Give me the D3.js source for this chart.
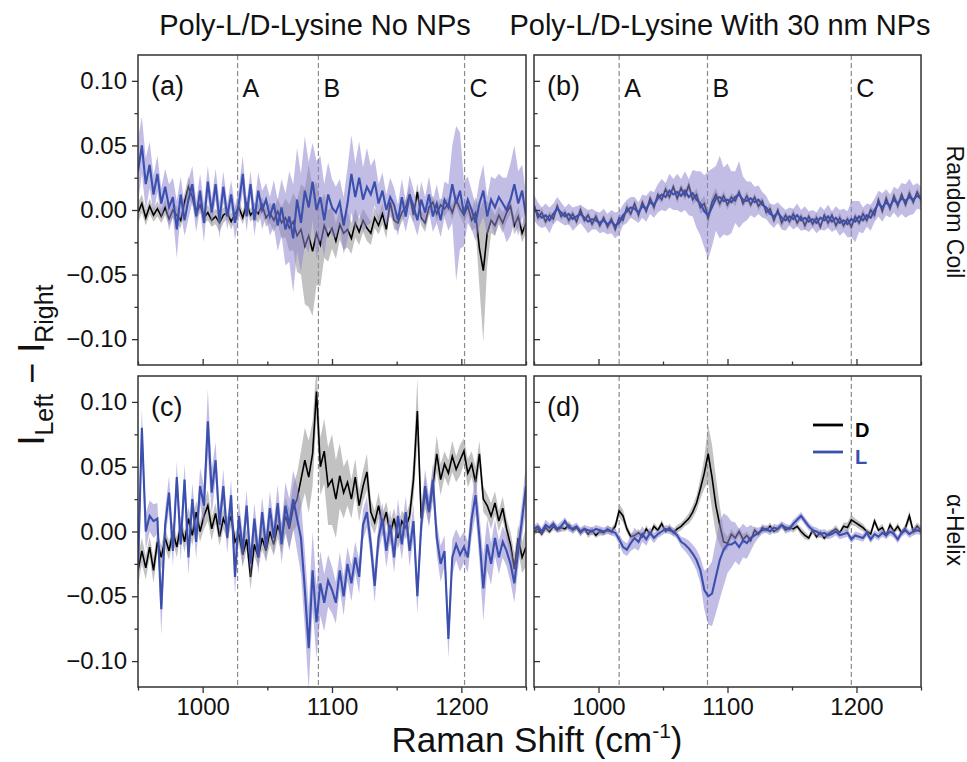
<!DOCTYPE html>
<html><head><meta charset="utf-8">
<script src="https://cdn.jsdelivr.net/npm/d3@7"></script>
<style>
body{margin:0;background:#fff}
svg{display:block}
text{font-family:Arial,"Liberation Sans",sans-serif;fill:#111}
</style>
</head><body>
<svg id="chart" width="967" height="762"></svg>
<script>
// Raman shift sampling (cm^-1)
const shift = d3.range(950, 1251, 3);
// All intensity values below in units of 1e-3 (I_Left - I_Right)
// Panel (a): Random coil, no NPs
const D_a = [-2,5,-6,3,-4,1,-5,2,-7,0, -4,-8,6,18,10,-3,4,-6,-2,-8, -5,-10,-4,-2,-9,-3,2,-6,5,-4,
  0,-3,4,-6,-2,-8,-1,-10,-6,-14, -9,-20,-15,-28,-20,-32,-18,-27,-12,-20, -14,-24,-11,-18,-15,-22,-10,-17,-8,-14,
  -18,-6,-12,-3,-15,6,-8,-10,-2,2, 12,-4,14,-6,-10,2,6,-3,4,1, 5,-2,8,1,-4,3,-8,-2,-30,-47,
  -18,-8,-12,-4,-10,-2,3,-12,-5,-18, -10];
const sD_a = [8,7,6,6,5,6,5,6,5,6, 7,6,7,8,6,5,6,5,6,5, 6,7,6,5,6,5,6,5,6,5,
  6,7,6,7,8,9,10,12,15,18, 22,28,35,45,55,50,40,32,25,20, 16,14,12,13,14,12,11,10,9,10,
  9,8,7,8,7,6,7,6,7,6, 7,6,7,6,7,6,5,6,5,6, 5,6,5,6,7,6,8,12,30,55,
  25,10,8,7,8,7,6,7,8,7, 8];
const L_a = [30,50,20,35,12,28,5,18,2,10, -15,12,-8,8,20,-5,15,-10,22,-2, 20,-8,18,-5,12,-10,5,28,-5,20,
  -8,15,0,8,-5,5,-12,2,-15,-5, -22,8,-10,15,2,22,0,10,-8,12, 2,-2,6,-12,5,28,10,25,8,18,
  12,22,5,15,0,10,4,-8,10,-5, 12,3,-8,8,-2,12,-5,5,-8,8, 2,20,5,15,-3,8,0,-10,5,15,
  -5,8,2,10,5,0,8,20,5,15, -5];
const sL_a = [25,22,20,18,15,14,12,14,18,15, 22,14,12,15,14,12,13,15,12,11, 12,14,12,10,11,13,12,14,12,10,
  12,14,15,13,15,18,20,22,28,35, 42,40,38,42,35,30,38,32,28,25, 22,20,18,22,28,30,26,28,25,30,
  22,18,15,14,12,15,13,12,14,12, 15,13,12,14,12,14,12,15,13,14, 18,30,60,45,25,18,15,14,18,20,
  15,18,22,18,20,25,28,30,25,20, 18];
// Panel (b): Random coil, with 30 nm NPs
const D_b = [4,-6,-2,-9,-4,-7,3,-5,-2,-8, -3,-9,0,-8,-4,-11,-5,-12,-6,-13, -7,-15,-6,-8,2,-3,5,-4,6,-1,
  9,2,12,8,16,10,18,9,17,11, 19,8,12,2,5,-6,6,12,5,11, 4,10,7,14,5,11,4,10,3,7,
  -2,1,-8,0,-10,-4,-9,-3,-10,-5, -12,-5,-11,-6,-13,-4,-10,-4,-12,-6, -12,-7,-13,-5,-10,-3,-8,0,-4,8,
  -1,9,1,11,3,12,4,13,6,14, 8];
const sD_b = [3,3,4,3,3,4,3,3,3,4, 3,3,4,3,3,3,4,3,3,3, 4,3,3,3,4,3,3,4,3,3,
  3,4,3,3,4,3,3,4,3,4, 4,4,5,5,6,6,5,5,4,4, 4,3,4,3,3,4,3,3,4,3,
  3,4,3,3,4,3,3,4,3,3, 4,3,3,4,3,3,4,3,3,4, 3,3,4,3,3,4,3,3,4,3,
  3,4,3,3,4,3,3,4,3,3, 4];
const L_b = [2,-3,-6,-4,-8,-3,1,-2,-5,-3, -7,-5,-3,-6,-9,-7,-8,-10,-8,-11, -9,-12,-10,-4,-1,2,1,-2,3,1,
  6,4,9,12,10,15,12,14,11,15, 10,13,8,5,-1,-4,2,9,10,7, 8,6,10,12,8,7,9,6,8,4,
  2,-3,-5,-2,-6,-8,-5,-7,-4,-8, -6,-9,-7,-10,-6,-8,-5,-9,-6,-10, -8,-11,-7,-9,-5,-8,-4,-6,0,5,
  2,6,3,8,5,9,7,10,8,11, 9];
const sL_b = [10,9,8,9,10,8,9,8,7,8, 9,8,7,8,9,8,7,8,9,8, 9,10,9,8,9,8,9,8,9,10,
  9,10,11,12,11,13,12,14,13,15, 14,18,22,25,28,34,30,25,32,26, 28,24,20,26,18,15,13,12,11,10,
  9,8,9,8,9,8,7,8,9,8, 9,8,7,8,9,8,9,8,9,10, 9,10,14,16,12,10,9,10,9,10,
  11,10,9,10,11,12,13,14,11,10, 9];
// Panel (c): alpha-helix, no NPs
const D_c = [-30,-15,-28,-12,-30,-8,-20,-5,-15,0, -12,5,-8,10,-3,15,0,12,20,2, 14,-4,10,2,12,-8,-2,-18,-6,-35,
  -10,-20,-5,-15,0,-10,5,-5,12,2, 18,25,40,55,42,60,108,50,62,35, 40,25,43,30,38,25,42,20,35,46,
  15,7,20,5,15,-2,10,-5,8,3, 12,40,93,10,30,15,35,60,40,52, 45,58,48,55,62,45,52,38,60,25,
  20,12,22,8,18,2,-10,-29,-5,-20, -12];
const sD_c = [12,10,9,8,10,8,9,8,7,8, 8,7,8,9,8,9,8,10,12,9, 8,7,8,9,8,7,8,9,8,10,
  9,8,9,8,10,9,10,12,14,15, 18,20,22,25,28,25,20,22,25,30, 35,30,25,20,18,15,14,12,12,14,
  10,9,10,9,8,9,8,9,8,9, 10,15,25,10,12,10,12,14,12,10, 10,12,10,12,10,11,10,12,10,10,
  9,10,9,8,9,8,10,12,10,12, 15];
const L_c = [-30,80,0,12,8,10,-60,5,30,-15, 42,-10,40,-20,25,-8,35,20,85,30, 55,5,35,-5,28,-35,12,-15,20,-25,
  10,-20,15,-12,18,-5,22,-10,20,5, 25,10,-5,-45,-90,-30,-70,-40,-55,-38, -45,-55,-30,-50,-25,-40,-20,-35,5,15,
  -10,-42,-5,10,-15,5,-20,12,-10,15, -15,8,-50,5,35,15,40,-5,-25,-15, -83,-20,-10,-18,-12,-20,10,28,-5,-44,
  -10,-25,-5,-20,-8,-15,-25,-40,-15,10, 35];
const sL_c = [30,15,14,12,13,12,20,12,13,12, 12,13,12,14,12,13,14,15,25,18, 14,12,13,12,12,14,12,13,12,12,
  12,13,12,12,13,12,14,15,18,20, 22,25,28,30,32,30,28,25,22,20, 18,16,14,15,13,14,12,13,12,12,
  12,13,12,12,13,12,12,13,12,12, 12,13,14,12,13,12,12,13,14,12, 15,14,12,13,12,12,14,15,18,25,
  20,16,14,13,12,12,14,15,13,14, 18];
// Panel (d): alpha-helix, with 30 nm NPs
const D_d = [0,2,-2,3,0,4,1,3,2,5, 1,3,-1,2,-2,1,-3,0,-1,2, 0,4,16,12,2,-4,-3,-1,-4,2,
  -2,4,1,6,0,3,-1,2,4,7, 10,15,22,33,45,60,42,20,5,-8, -9,-2,-5,0,-6,-3,-7,1,-2,3,
  1,4,0,2,5,1,3,2,4,0, -3,-5,1,-4,-1,-5,-2,0,2,-1, 4,3,9,7,5,3,0,-2,8,1,
  3,-3,5,0,4,-1,3,12,0,4, 1];
const sD_d = [3,3,2,3,2,3,2,3,2,3, 3,2,3,2,3,3,2,3,2,3, 3,3,5,5,3,3,2,3,2,3,
  2,3,2,3,2,3,3,3,3,3, 4,5,6,8,12,22,25,22,15,8, 5,4,3,3,4,3,3,3,2,3,
  2,3,2,3,2,3,2,3,2,3, 3,2,3,2,3,2,3,2,3,2, 3,4,4,3,3,3,2,3,3,2,
  3,2,3,2,3,2,3,4,3,3, 3];
const L_d = [2,4,0,5,3,6,2,4,8,3, 2,4,0,2,1,0,2,1,0,1, 0,-1,-6,-12,-14,-9,-5,-8,-2,-6,
  -1,-5,-2,0,2,1,0,-3,-8,-10, -13,-17,-22,-30,-45,-50,-48,-35,-22,-14, -10,-10,-8,-12,-7,-9,-5,-3,-1,1,
  2,0,3,2,5,3,2,6,9,12, 8,4,1,0,-2,-1,-3,-2,0,-3, -2,-1,-6,-3,-4,-5,-1,-6,-2,-4,
  -1,-3,0,-2,-6,-1,1,-2,0,1, 0];
const sL_d = [3,3,3,4,3,3,3,4,3,3, 3,3,3,3,3,3,3,3,3,3, 3,3,4,5,5,6,8,7,6,5,
  4,4,3,3,3,3,3,3,4,5, 6,7,8,10,15,22,25,28,30,28, 22,18,15,14,13,12,10,6,4,3,
  3,3,3,3,3,3,3,3,3,3, 3,3,3,3,3,3,3,3,3,3, 3,3,3,3,3,3,3,3,3,3,
  3,3,3,3,3,3,3,3,3,3, 3];

// Marker band positions (cm^-1)
const markers_noNP = [1027, 1089.5, 1202.5];
const markers_NP = [1016, 1084.5, 1196];
const markerNames = ["A", "B", "C"];
const panelNames = ["(a)", "(b)", "(c)", "(d)"];
const colTitles = ["Poly-L/D-Lysine No NPs", "Poly-L/D-Lysine With 30 nm NPs"];
const rowTitles = ["Random Coil", "α-Helix"];
const yMajor = [-0.10, -0.05, 0.00, 0.05, 0.10];
const yMinor = [-0.075, -0.025, 0.025, 0.075];
const xMajor = [1000, 1100, 1200];
const xMinor = [950, 1050, 1150, 1250];
const seriesNames = ["D", "L"];

const BLUE = "#3a4fae";
const svg = d3.select("#chart");
const cols = [[138, 526], [534, 921]];
const rows = [[55, 365], [376, 687]];

const panels = [
  {D: D_a, sD: sD_a, L: L_a, sL: sL_a, m: markers_noNP, c: 0, r: 0},
  {D: D_b, sD: sD_b, L: L_b, sL: sL_b, m: markers_NP, c: 1, r: 0},
  {D: D_c, sD: sD_c, L: L_c, sL: sL_c, m: markers_noNP, c: 0, r: 1},
  {D: D_d, sD: sD_d, L: L_d, sL: sL_d, m: markers_NP, c: 1, r: 1}
];

panels.forEach((p, k) => {
  const [x0, x1] = cols[p.c], [y0, y1] = rows[p.r];
  const x = d3.scaleLinear().domain([950, 1250]).range([x0, x1]);
  const y = d3.scaleLinear().domain([-0.12, 0.12]).range([y1, y0]);
  const g = svg.append("g");
  const cid = "clip" + k;
  svg.append("clipPath").attr("id", cid).append("rect")
    .attr("x", x0).attr("y", y0).attr("width", x1 - x0).attr("height", y1 - y0);
  const plot = g.append("g").attr("clip-path", `url(#${cid})`);

  const mk = (vals, sp) => shift.map((s, i) => ({s, v: vals[i] / 1000, e: sp[i] / 1000}));
  const dD = mk(p.D, p.sD), dL = mk(p.L, p.sL);
  const area = d3.area().x(d => x(d.s)).y0(d => y(d.v - d.e)).y1(d => y(d.v + d.e));
  const line = d3.line().x(d => x(d.s)).y(d => y(d.v));

  plot.selectAll(".mk").data(p.m).join("line")
    .attr("x1", d => x(d)).attr("x2", d => x(d)).attr("y1", y0).attr("y2", y1)
    .attr("stroke", "#8a8a8a").attr("stroke-width", 1.2).attr("stroke-dasharray", "5,3");

  plot.append("path").datum(dD).attr("d", area).attr("fill", "#9a9a9a").attr("fill-opacity", 0.6);
  plot.append("path").datum(dD).attr("d", line).attr("fill", "none").attr("stroke", "#000").attr("stroke-width", 1.6);
  plot.append("path").datum(dL).attr("d", area).attr("fill", "#8f86d0").attr("fill-opacity", 0.55);
  plot.append("path").datum(dL).attr("d", line).attr("fill", "none").attr("stroke", BLUE).attr("stroke-width", 2.1);

  const labelsY = p.c === 0, labelsX = p.r === 1;
  const yA = g.append("g").attr("transform", `translate(${x0},0)`);
  yA.call(d3.axisLeft(y).tickValues(yMajor).tickSize(labelsY ? 6 : -6).tickPadding(5)
    .tickFormat(labelsY ? d3.format(".2f") : ""));
  yA.append("g").call(d3.axisLeft(y).tickValues(yMinor).tickSize(labelsY ? 3.5 : -3.5).tickFormat(""));
  const xA = g.append("g").attr("transform", `translate(0,${y1})`);
  xA.call(d3.axisBottom(x).tickValues(xMajor).tickSize(labelsX ? 6 : -6).tickPadding(5)
    .tickFormat(labelsX ? d3.format("d") : ""));
  xA.append("g").call(d3.axisBottom(x).tickValues(xMinor).tickSize(labelsX ? 3.5 : -3.5).tickFormat(""));
  g.selectAll(".domain").remove();
  g.selectAll(".tick line").attr("stroke", "#333").attr("stroke-width", 1.3);
  g.selectAll(".tick text").attr("font-size", 24).attr("fill", "#111")
    .attr("font-family", "Arial, 'Liberation Sans', sans-serif");

  g.append("rect").attr("x", x0).attr("y", y0).attr("width", x1 - x0).attr("height", y1 - y0)
    .attr("fill", "none").attr("stroke", "#333").attr("stroke-width", 1.5);

  g.append("text").attr("x", x0 + 13).attr("y", y0 + 40).attr("font-size", 27).text(panelNames[k]);
  if (p.r === 0) {
    g.selectAll(".ml").data(p.m).join("text").attr("x", d => x(d) + 5).attr("y", y0 + 42)
      .attr("font-size", 25).text((d, i) => markerNames[i]);
  }

  if (k === 3) {
    const lg = [[seriesNames[0], "#000"], [seriesNames[1], BLUE]];
    lg.forEach((e, i) => {
      const ly = 425 + i * 27;
      g.append("line").attr("x1", 813).attr("x2", 843).attr("y1", ly).attr("y2", ly)
        .attr("stroke", e[1]).attr("stroke-width", 2.8);
      g.append("text").attr("x", 855).attr("y", ly + 12).attr("font-size", 20).attr("font-weight", "bold")
        .style("fill", e[1]).text(e[0]);
    });
  }
});

// column titles
svg.append("text").attr("x", 315).attr("y", 35).attr("text-anchor", "middle").attr("font-size", 29)
  .text(colTitles[0]);
svg.append("text").attr("x", 720).attr("y", 35).attr("text-anchor", "middle").attr("font-size", 29)
  .text(colTitles[1]);

// row titles
[[212, rowTitles[0]], [530, rowTitles[1]]].forEach(([cy, t]) => {
  svg.append("text").attr("transform", `translate(947,${cy}) rotate(90)`).attr("text-anchor", "middle")
    .attr("font-size", 23).text(t);
});

// y label
const yl = svg.append("text").attr("transform", "translate(44,365) rotate(-90)").attr("text-anchor", "middle")
  .attr("font-size", 36);
yl.append("tspan").text("I");
yl.append("tspan").attr("font-size", 25).attr("dy", 9).text("Left");
yl.append("tspan").attr("dy", -9).text(" − I");
yl.append("tspan").attr("font-size", 25).attr("dy", 9).text("Right");

// x label
const xl = svg.append("text").attr("x", 537).attr("y", 752).attr("text-anchor", "middle").attr("font-size", 35);
xl.append("tspan").text("Raman Shift (cm");
xl.append("tspan").attr("font-size", 21).attr("dy", -14).text("-1");
xl.append("tspan").attr("dy", 14).text(")");
</script>
</body></html>
